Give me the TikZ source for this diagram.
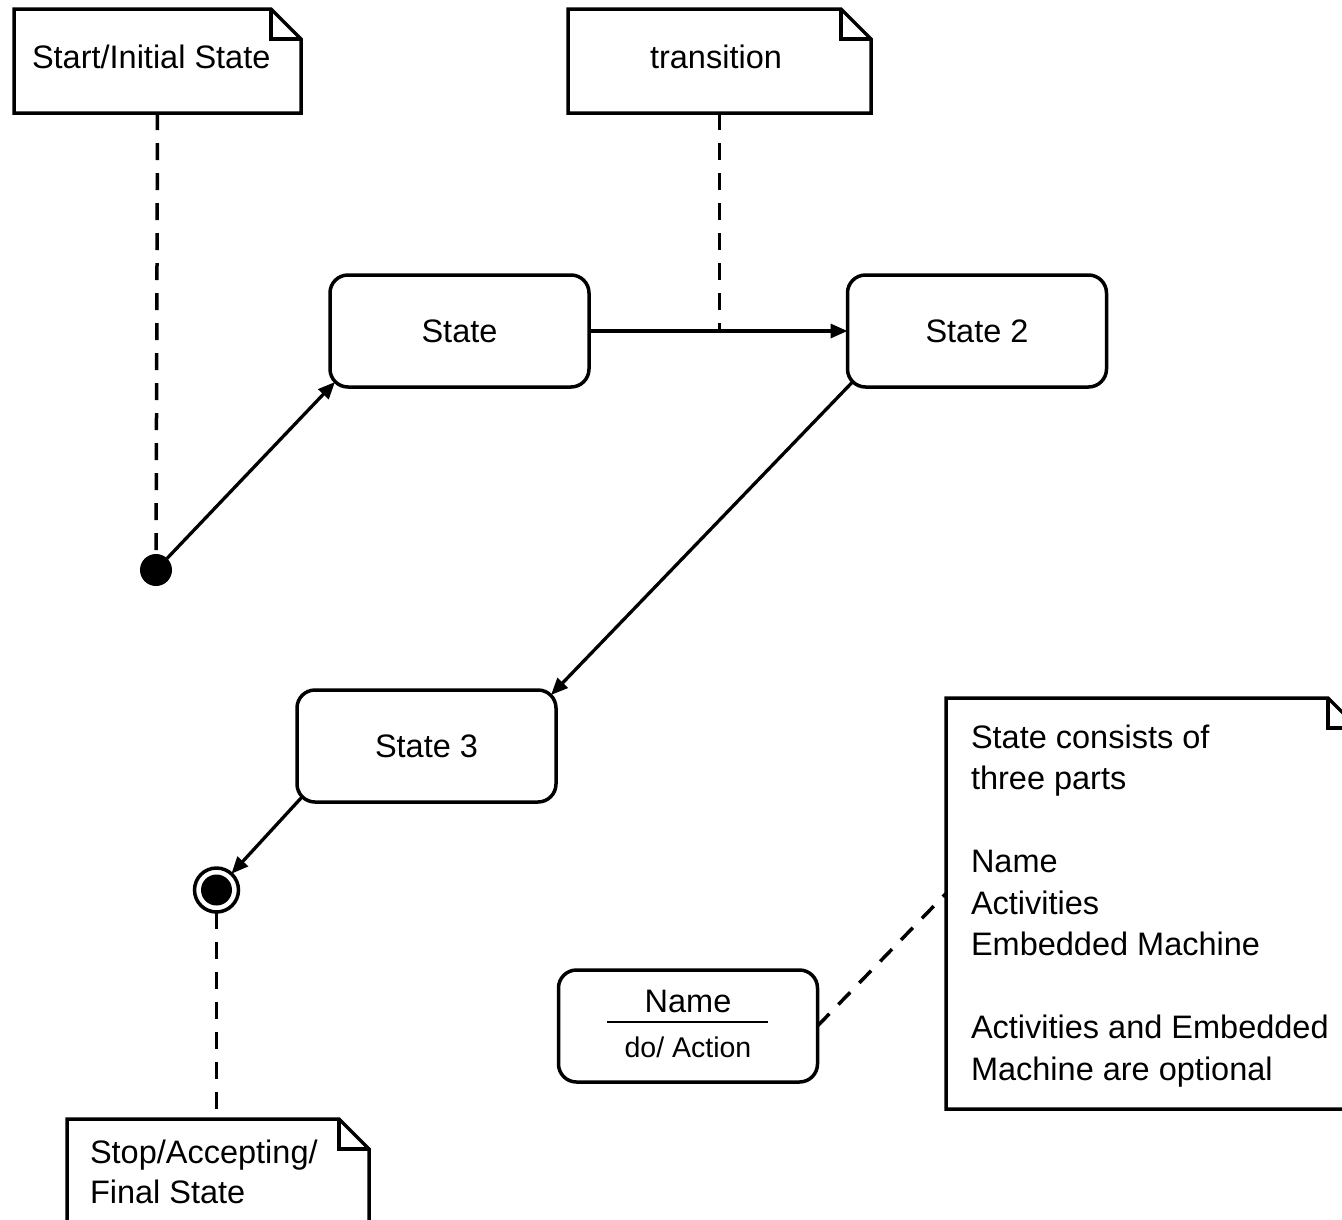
\documentclass[tikz,border=0pt]{standalone}
\usepackage{fontspec}
\setmainfont{Liberation Sans}
\usetikzlibrary{arrows.meta,calc}
% note outline with a folded top-right corner
\newcommand\foldnote[1]{%
  \draw[line join=miter] (#1.north west) -- ([xshift=-30pt]#1.north east)
    -- ([yshift=-30pt]#1.north east) -- (#1.south east) -- (#1.south west) -- cycle;
  \draw[line join=miter] ([xshift=-30pt]#1.north east) |- ([yshift=-30pt]#1.north east);}
\begin{document}
\begin{tikzpicture}[x=1pt,y=-1pt,
  line width=3.5pt,
  every node/.style={inner sep=0pt, outer sep=0pt},
  txt/.style={font=\fontsize{32.5}{41.5}\selectfont, align=left},
  smalltxt/.style={font=\fontsize{28.5}{34}\selectfont},
  statebox/.style={draw, rounded corners=18pt, minimum width=259pt, minimum height=112pt,
    font=\fontsize{32.5}{40}\selectfont},
  notebody/.style={rectangle},
  flow/.style={-{Triangle[length=17pt,width=14pt]}, line width=3.3pt},
  anno/.style={dash pattern=on 17pt off 13pt, line width=3.5pt},
]
\useasboundingbox (0,0) rectangle (1342,1219);
\clip (0,0) rectangle (1342,1219);

% notes
\node[notebody, minimum width=287pt, minimum height=104pt] (n1) at (157.5,61) {};
\foldnote{n1}
\node[txt, anchor=base west] (n1t) at (32,68) {Start/Initial State};

\node[notebody, minimum width=303pt, minimum height=104pt] (n2) at (719.5,61) {};
\foldnote{n2}
\node[txt, anchor=base] (n2t) at (716,68) {transition};

\node[notebody, minimum width=302pt, minimum height=130pt] (bn) at (218,1184) {};
\foldnote{bn}
\node[txt, anchor=base west, font=\fontsize{32.5}{40}\selectfont] (bnt) at (90,1203) {Stop/Accepting/\\Final State};

\node[notebody, minimum width=412pt, minimum height=411pt] (rn) at (1152,903.5) {};
\foldnote{rn}
\node[txt, anchor=base west] (rnt) at (971,1080)
  {State consists of\\three parts\\[41.5pt]Name\\Activities\\Embedded Machine\\[41.5pt]Activities and Embedded\\Machine are optional};

% states
\node[statebox] (s1) at (459.5,331) {State};
\node[statebox] (s2) at (977,331) {State 2};
\node[statebox] (s3) at (426.5,746) {State 3};

% state with compartments
\node[statebox] (nb) at (688,1026) {};
\node[txt, anchor=base] (nbn) at (688,1012) {Name};
\draw[line width=2.8pt] ([xshift=-81pt,yshift=4pt]nb.center) -- ([xshift=80pt,yshift=4pt]nb.center);
\node[smalltxt, anchor=base] (nba) at (688,1057) {do/ Action};

% pseudo states
\node[circle, fill, minimum size=32pt] (init) at (156,570) {};
\node[circle, draw, minimum size=44pt,
  path picture={\fill (path picture bounding box.center) circle (15.5pt);}] (fin) at (216.5,890) {};

% connectors
\draw[anno] (n1.south) -- (init);
\draw[flow] (init) -- ([xshift=5pt,yshift=5pt]s1.south west);
\draw[flow] (s1) -- (s2);
\draw[anno] (n2.south) -- (n2.south |- s1.east);
\draw[flow] ([xshift=5pt,yshift=5pt]s2.south west) -- ([xshift=-5pt,yshift=-5pt]s3.north east);
\draw[flow] ([xshift=5pt,yshift=5pt]s3.south west) -- (fin);
\draw[anno] (fin.south) -- (fin.south |- bn.north);
\draw[anno] (nb.east) -- ([yshift=10pt]rn.west);
\end{tikzpicture}
\end{document}
